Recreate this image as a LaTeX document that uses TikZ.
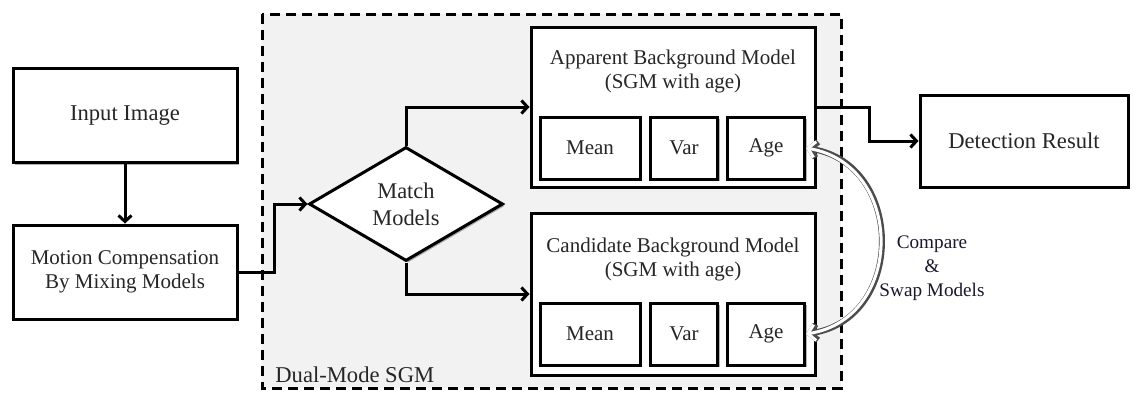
\documentclass[tikz,border=0pt]{standalone}
\usepackage{fontspec}
\setmainfont{Liberation Serif}
\usetikzlibrary{shapes.geometric,arrows.meta,shadows}
\begin{document}
\begin{tikzpicture}[x=0.5pt,y=-0.5pt,
  box/.style={draw=black, line width=1.5pt, fill=white, inner sep=0pt, align=center,
    font=\fontsize{10.5}{12}\selectfont, text=black!85,
    drop shadow={shadow xshift=1pt, shadow yshift=-1pt, opacity=0.3, fill=black}},
  bigtext/.style={font=\fontsize{11.3}{13}\selectfont},
  conn/.style={draw=black, line width=1.5pt, -{Straight Barb[length=3pt,width=6.5pt]}},
  swapout/.style={draw=black!70, line width=3pt, {Straight Barb[length=3.5pt,width=8pt]}-{Straight Barb[length=3.5pt,width=8pt]}},
  swapin/.style={draw=white, line width=1.5pt, {Straight Barb[length=3.5pt,width=8pt]}-{Straight Barb[length=3.5pt,width=8pt]}}]
\useasboundingbox (0,0) rectangle (1136,392);
\fill[white] (0,0) rectangle (1136,392);
% dashed region
\draw[fill=black!5, line width=1.5pt, dash pattern=on 5pt off 3pt] (262,14) rectangle (841,388);
\node[anchor=base west, font=\fontsize{11.3}{13}\selectfont, text=black!85, inner sep=0pt] (dm) at (275,382) {Dual-Mode SGM};

% left column
\node[box, bigtext, minimum width=112pt, minimum height=47pt] (inp) at (125,115.5) {Input Image};
\node[box, minimum width=112pt, minimum height=47pt] (mot) at (125,272) {Motion Compensation\\By Mixing Models};

% diamond
\node[box, shape=diamond, aspect=1.7, minimum width=97pt, minimum height=57pt, font=\fontsize{11.2}{13.5}\selectfont] (dia) at (406,204) {Match\\Models};

% apparent model
\node[box, minimum width=142pt, minimum height=80pt] (app) at (673,107) {};
\node[inner sep=0pt, align=center, font=\fontsize{10.5}{12}\selectfont, text=black!85] (appt) at (673,71) {Apparent Background Model\\(SGM with age)};
\node[box, minimum width=50pt, minimum height=31pt] (mean1) at (590,148) {Mean};
\node[box, minimum width=33.5pt, minimum height=31pt] (var1) at (684,148) {Var};
\node[box, minimum width=38.5pt, minimum height=31pt] (age1) at (766,148) {Age};

% candidate model
\node[box, minimum width=142pt, minimum height=81pt] (cand) at (673,294) {};
\node[inner sep=0pt, align=center, font=\fontsize{10.5}{12}\selectfont, text=black!85] (candt) at (673,259) {Candidate Background Model\\(SGM with age)};
\node[box, minimum width=50pt, minimum height=31pt] (mean2) at (590,334) {Mean};
\node[box, minimum width=33.5pt, minimum height=31pt] (var2) at (684,334) {Var};
\node[box, minimum width=38.5pt, minimum height=31pt] (age2) at (766,334) {Age};

% detection
\node[box, bigtext, minimum width=104pt, minimum height=46pt] (det) at (1024,141) {Detection Result};

% connectors
\draw[conn] (inp.south) -- (mot.north);
\draw[conn] (mot.east) -- ++(36,0) |- (dia.west);
\draw[conn] (dia.north) |- (app.west);
\draw[conn] (dia.south) |- (cand.west);
\draw[conn] (app.east) -- ++(53,0) |- (det.west);

% compare & swap
\draw[swapout] (age1.east) .. controls (905,165) and (905,318) .. (age2.east);
\draw[swapin] (age1.east) .. controls (905,165) and (905,318) .. (age2.east);
\node[align=center, inner sep=0pt, font=\fontsize{9.6}{12}\selectfont, text={rgb,255:red,25;green,25;blue,45}] (cmp) at (932,268) {Compare\\\&\\Swap Models};
\end{tikzpicture}
\end{document}
